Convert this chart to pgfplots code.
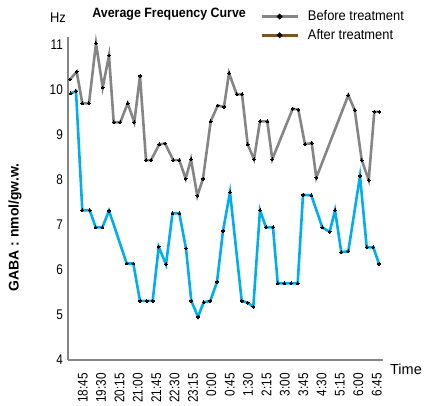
\documentclass[border=0pt]{standalone}
\usepackage{fontspec}
\setmainfont{Liberation Sans}[FakeStretch=0.92]
\newfontfamily\condensed{Liberation Sans}[FakeStretch=0.84]
\newfontfamily\plain{Liberation Sans}
\usepackage{pgfplots}
\pgfplotsset{compat=1.18}
\definecolor{grayline}{HTML}{858585}
\definecolor{blueline}{HTML}{00AEEF}
\definecolor{brownline}{HTML}{7B5427}
\pgfplotstableread{
x y
70.0 10.22
76.7 10.39
82.3 9.69
89.0 9.69
96.0 11.02
102.7 10.04
109.0 10.75
113.7 9.27
120.3 9.27
127.7 9.69
134.3 9.27
140.0 10.30
146.0 8.43
151.0 8.43
159.3 8.78
165.0 8.80
173.3 8.43
179.3 8.43
185.7 8.02
191.0 8.45
197.3 7.64
203.0 8.02
210.7 9.29
217.7 9.64
224.0 9.61
229.0 10.36
236.7 9.89
242.0 9.89
247.7 8.78
254.0 8.45
260.0 9.29
267.3 9.29
272.3 8.45
292.7 9.57
298.3 9.55
305.0 8.78
311.7 8.81
316.3 8.04
348.3 9.87
354.7 9.54
361.7 8.43
368.7 7.99
374.3 9.50
379.3 9.50
}\before
\pgfplotstableread{
x y
70.7 9.91
76.0 9.96
82.3 7.32
89.7 7.32
95.7 6.94
102.3 6.94
109.0 7.31
126.7 6.14
133.3 6.14
140.0 5.31
146.7 5.31
152.7 5.31
158.7 6.51
166.0 6.12
172.5 7.25
179.3 7.25
186.0 6.47
191.3 5.31
198.0 4.96
203.7 5.28
210.3 5.31
217.0 5.73
223.0 6.86
230.0 7.72
241.7 5.31
247.7 5.27
253.3 5.18
260.0 7.32
266.0 6.94
273.0 6.94
277.7 5.70
284.3 5.70
291.0 5.70
297.7 5.70
303.0 7.66
311.3 7.65
322.3 6.94
329.7 6.84
335.0 7.32
341.3 6.39
348.3 6.41
360.0 8.08
366.7 6.50
373.3 6.50
379.0 6.13
}\after
\begin{document}
\begin{tikzpicture}
\begin{axis}[name=ax, scale only axis, width=315pt, height=323pt,
  xmin=68, xmax=383, ymin=4, ymax=11.16,
  axis x line=bottom, axis y line=left,
  axis line style={-, draw=grayline, line width=2.5pt},
  ytick={4,5,6,7,8,9,10,11},
  xtick={82.7,101.075,119.45,137.825,156.2,174.575,192.95,211.325,229.7,248.075,266.45,284.825,303.2,321.575,339.95,358.325,376.7},
  xticklabels={18:45,19:30,20:15,21:00,21:45,22:30,23:15,0:00,0:45,1:30,2:15,3:00,3:45,4:30,5:15,6:00,6:45},
  major tick length=0pt,
  tick label style={font=\condensed\fontsize{14}{14}\selectfont},
  /pgf/number format/assume math mode=true,
  xticklabel style={rotate=90, anchor=east, inner sep=0pt},
  xticklabel shift=13pt,
  yticklabel style={inner sep=0pt},
  yticklabel shift=5pt,
  clip=false,
  legend style={at={(0.61,1.088)}, anchor=north west, draw=none, fill=none, inner sep=0pt,
    font=\fontsize{14}{14}\selectfont, row sep=3pt, column sep=7pt, legend cell align=left},
  legend image code/.code={\draw[#1, mark=none] (0pt,0pt) -- (36pt,0pt); \fill[black] (18pt,0pt) circle (1.2pt);},
]
\addlegendimage{draw=grayline, line width=2.6pt}
\addlegendentry{Before treatment}
\addlegendimage{draw=brownline, line width=2.6pt}
\addlegendentry{After treatment}
\addplot[draw=grayline, line width=2.6pt, line join=miter, mark=*, mark size=1.4pt, mark options={fill=black, draw=black, solid, line width=0pt}, forget plot] table[x=x,y=y] {\before};
\addplot[draw=blueline, line width=2.6pt, line join=miter, mark=*, mark size=1.4pt, mark options={fill=black, draw=black, solid, line width=0pt}, forget plot] table[x=x,y=y] {\after};
\node[font=\fontsize{14}{14}\selectfont] at (rel axis cs:-0.032,1.059) {Hz};
\node[font=\bfseries\fontsize{13.5}{14}\selectfont] at (rel axis cs:0.321,1.071) {Average Frequency Curve};
\node[font=\plain\bfseries\fontsize{14}{14}\selectfont, rotate=90] at (rel axis cs:-0.168,0.41) {GABA : nmol/gw.w.};
\node[font=\plain\fontsize{14.5}{14}\selectfont, anchor=west, inner sep=0pt] at (rel axis cs:1.022,-0.028) {Time};
\end{axis}
\pgfresetboundingbox
\path[use as bounding box] ([xshift=-68pt,yshift=-46pt]ax.south west) rectangle ([xshift=42pt,yshift=37pt]ax.north east);
\end{tikzpicture}
\end{document}
